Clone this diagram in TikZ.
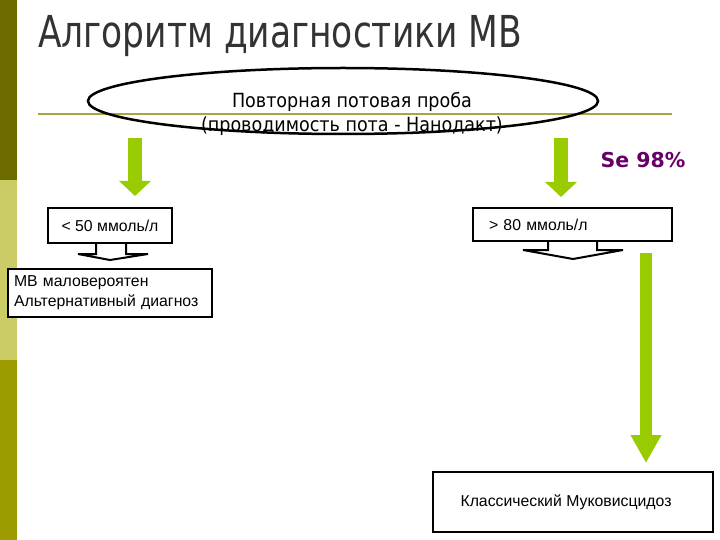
\documentclass[tikz,border=0pt]{standalone}
\usepackage{fontspec}
\setmainfont{Liberation Sans}
\newfontfamily\titlefont[FakeStretch=0.87]{DejaVu Sans Condensed}
\newfontfamily\ellfont{DejaVu Sans Condensed}
\newfontfamily\sefont{DejaVu Sans}
\usetikzlibrary{arrows.meta,calc,shapes.geometric}
\definecolor{darkolive}{HTML}{6B6B00}
\definecolor{khaki}{HTML}{CCCC66}
\definecolor{olivebar}{HTML}{9C9C00}
\definecolor{lineolive}{HTML}{A6A640}
\definecolor{arrowgreen}{HTML}{99CC00}
\definecolor{sepurple}{HTML}{660066}
\definecolor{titlegray}{HTML}{333333}
\begin{document}
\begin{tikzpicture}[x=1pt,y=-1pt,
  box/.style={draw=black, line width=2pt, fill=white, inner sep=0pt, font=\fontsize{15.8}{20}\selectfont},
  pointer/.style={draw=black, line width=2pt, fill=white, line join=miter},
  garrow/.style={draw=arrowgreen, line width=14pt, -{Triangle[width=31pt,length=15pt]}},
  gtip/.style={draw=arrowgreen, line width=12pt, -{Triangle[width=29pt,length=28pt]}}
]
\useasboundingbox (0,0) rectangle (720,540);
\fill[darkolive] (0,0) rectangle (17,180);
\fill[khaki] (0,180) rectangle (17,360);
\fill[olivebar] (0,360) rectangle (17,540);

\node[anchor=base west, font=\titlefont\fontsize{44}{50}\selectfont, text=titlegray, inner sep=0pt] (title) at (38,48) {Алгоритм диагностики МВ};

\coordinate (rl) at (38,114);
\coordinate (rr) at (672,114);
\draw[lineolive, line width=1.5pt] (rl) -- (rr);

\node[draw=black, ellipse, line width=2.5pt, minimum width=510pt, minimum height=66pt, inner sep=0pt] (test) at (343,101) {};
\node[align=center, font=\ellfont\fontsize{19.5}{24}\selectfont, inner sep=0pt] (testtext) at (352,114) {Повторная потовая проба\\(проводимость пота - Нанодакт)};

\node[font=\sefont\bfseries\fontsize{20.5}{24}\selectfont, text=sepurple, inner sep=0pt] (se) at (643,160) {Se 98\%};

% left branch
\coordinate (la1) at (135,138);
\coordinate (la2) at (135,196);
\draw[garrow] (la1) -- (la2);
\node[box, minimum width=124pt, minimum height=35pt] (low) at (110,225.5) {< 50 ммоль/л};
\draw[pointer] ($(low.south)+(-14,0)$) -- ++(0,10) -- ++(-18,0) -- ($(low.south)+(0,16)$) -- ($(low.south)+(38,10)$) -- ++(-22,0) -- ++(0,-10);
\node[box, minimum width=204pt, minimum height=48pt, text width=192pt, align=left] (unlikely) at (110,293) {МВ маловероятен\\Альтернативный диагноз};

% right branch
\coordinate (ra1) at (561,138);
\coordinate (ra2) at (561,197);
\draw[garrow] (ra1) -- (ra2);
\node[box, minimum width=199pt, minimum height=33pt, text width=167pt, align=left] (high) at (572.5,224.5) {> 80 ммоль/л};
\draw[pointer] ($(high.south)+(-24.5,0)$) -- ++(0,8) -- ++(-25,0) -- ($(high.south)+(0.5,17)$) -- ($(high.south)+(50.5,8)$) -- ++(-26,0) -- ++(0,-8);
\node[box, minimum width=280pt, minimum height=60pt] (cf) at (573,502) {\hspace*{-14pt}\raisebox{-3pt}{Классический Муковисцидоз}};
\coordinate (lg1) at (646,253);
\coordinate (lg2) at (646,463);
\draw[gtip] (lg1) -- (lg2);
\end{tikzpicture}
\end{document}
